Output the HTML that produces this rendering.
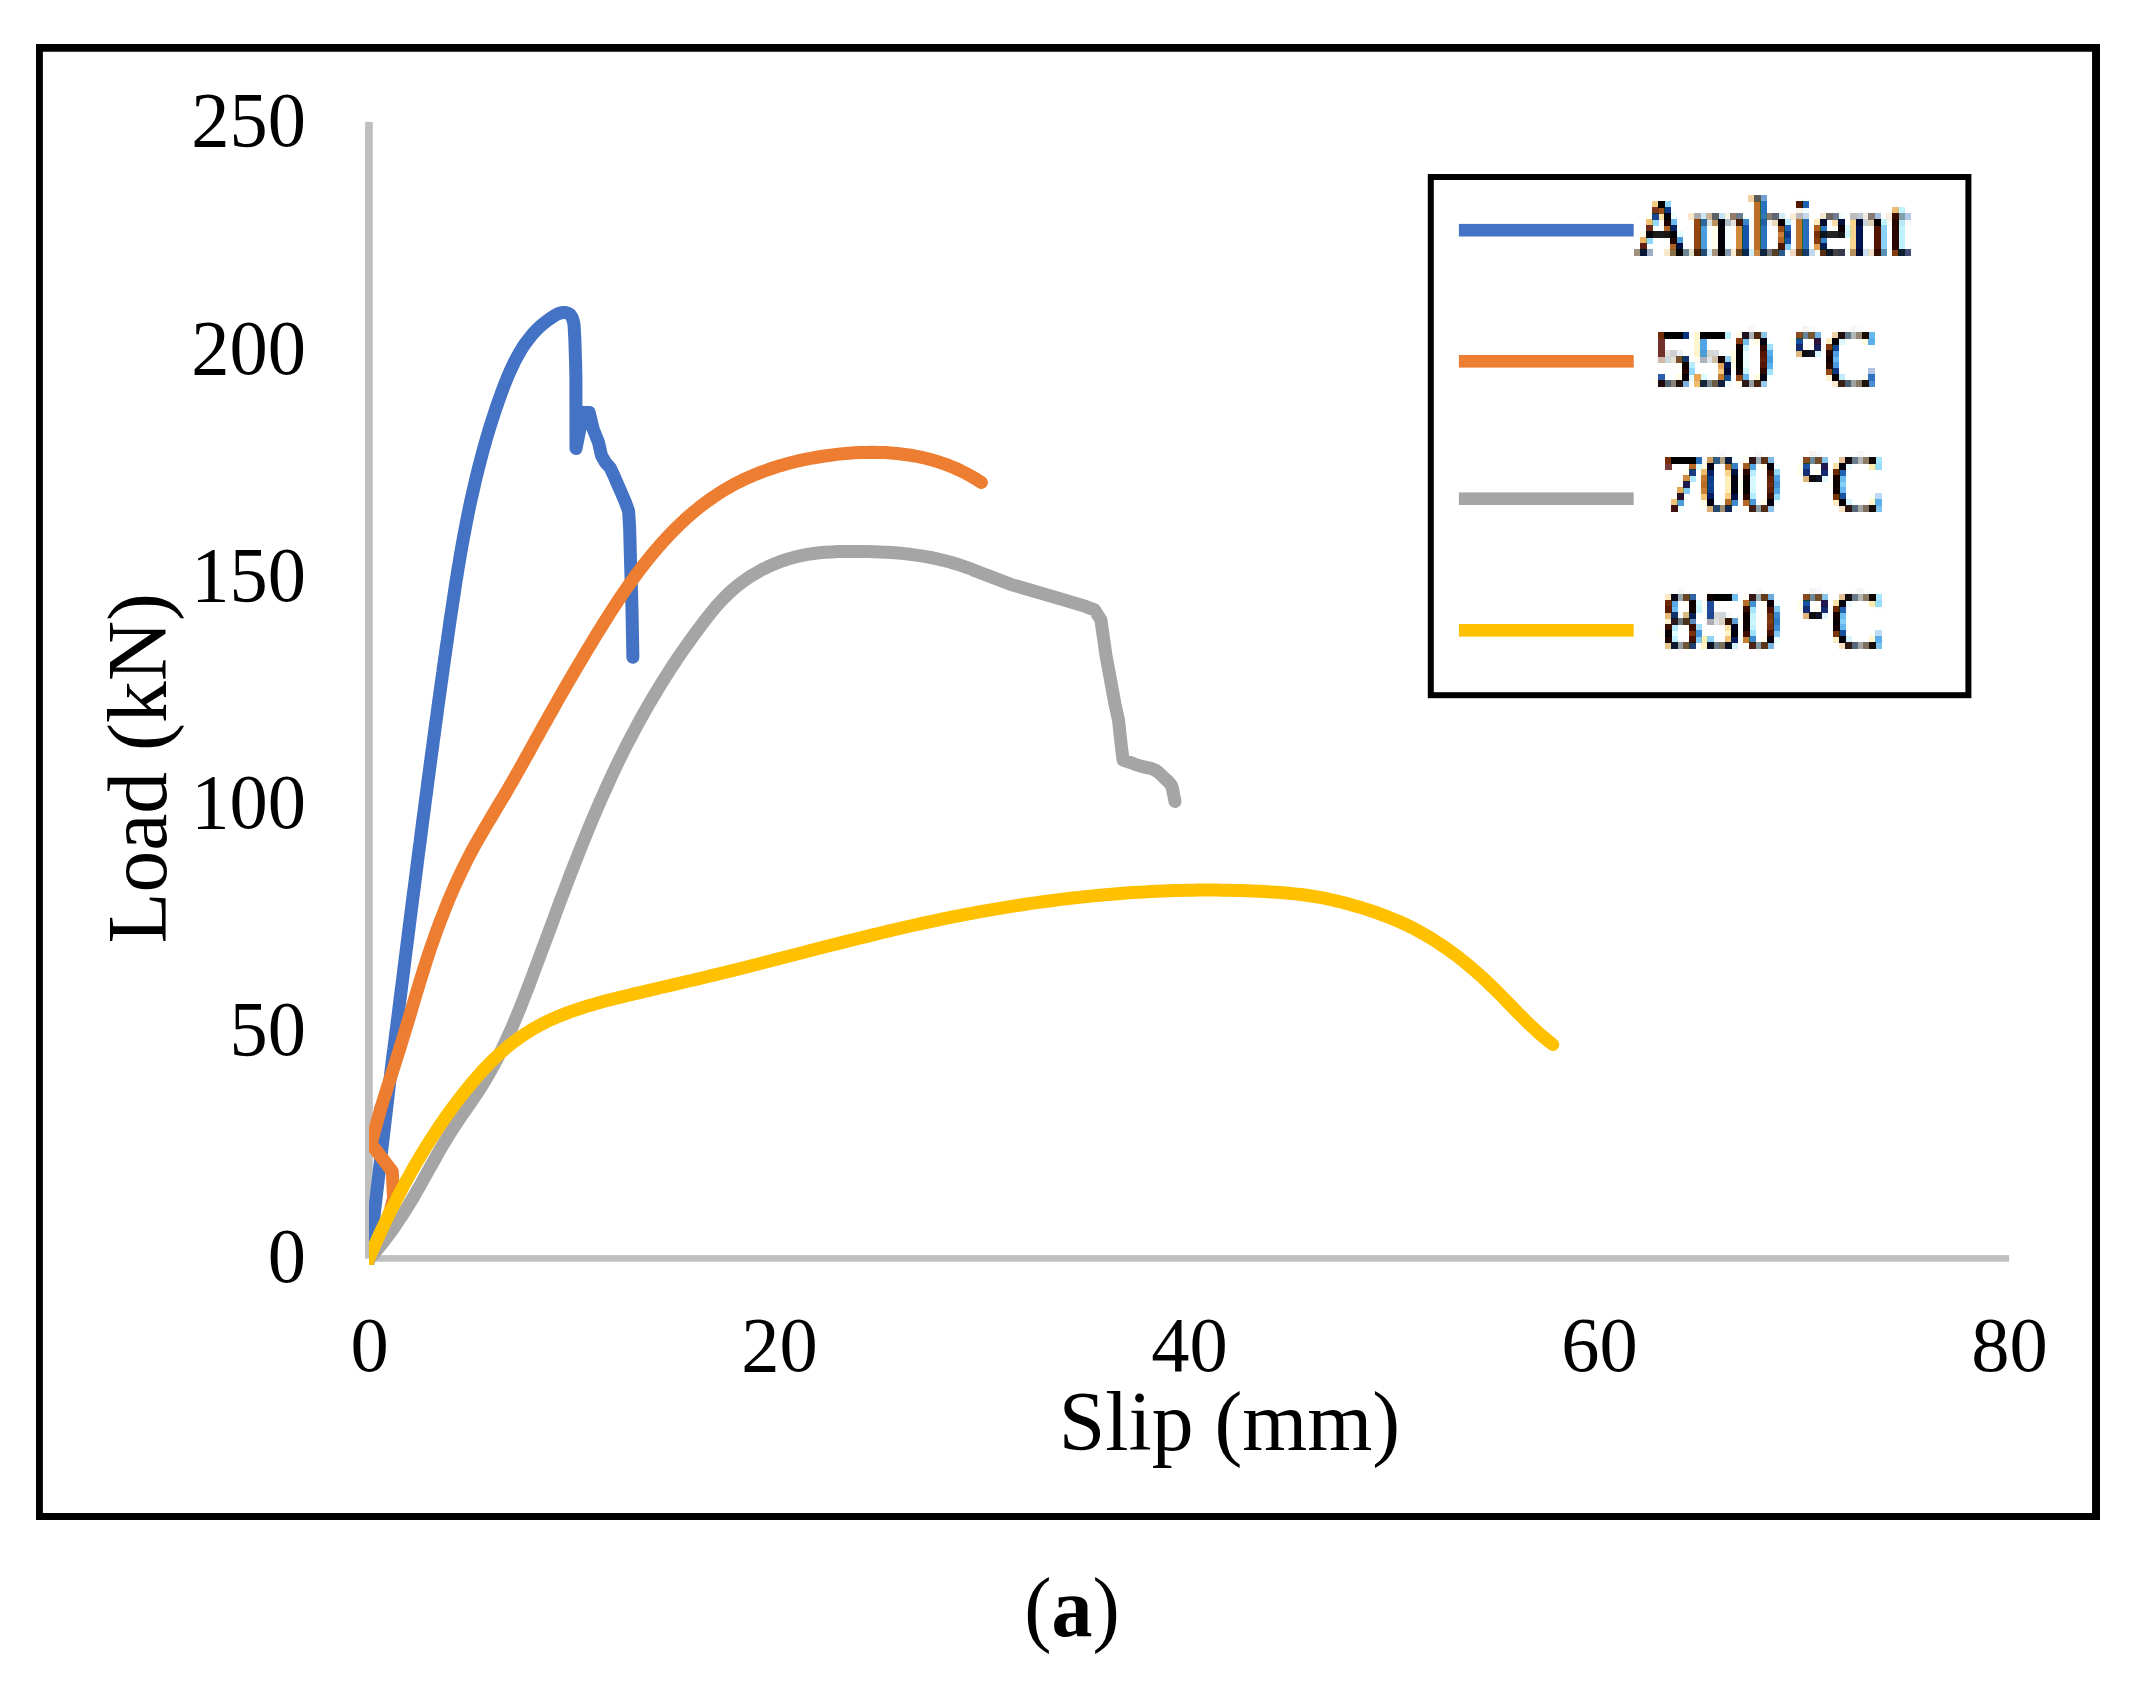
<!DOCTYPE html>
<html lang="en">
<head>
<meta charset="utf-8">
<title>Load-slip curves (a)</title>
<style>
html,body{margin:0;padding:0;background:#fff;}
body{width:2147px;height:1689px;overflow:hidden;}
svg{display:block;}
text{font-family:"Liberation Serif",serif;fill:#000;}
.tk{font-size:76.5px;}
.tt{font-size:83.6px;}
.lg{font-size:82.5px;}
.cv{fill:none;stroke-width:13;stroke-linecap:round;stroke-linejoin:round;}
</style>
</head>
<body>
<svg width="2147" height="1689" viewBox="0 0 2147 1689">
<rect x="0" y="0" width="2147" height="1689" fill="#fff"/>
<path fill="#000" fill-rule="evenodd" d="M36.0 43.9H2100.0V1519.9H36.0Z M42.9 51.75H2092.05V1513.1H42.9Z"/>
<rect x="365.1" y="121.9" width="7.7" height="1136.8" fill="#bfbfbf"/>
<rect x="369.0" y="1255.1" width="1640.1" height="6.6" fill="#bfbfbf"/>
<defs><clipPath id="pc"><rect x="369" y="100" width="1700" height="1165"/></clipPath>
<filter id="px0" filterUnits="userSpaceOnUse" x="1634" y="183" width="312" height="96" color-interpolation-filters="sRGB"><feGaussianBlur in="SourceAlpha" stdDeviation="1.1" result="b"/><feFlood x="1637" y="186" width="1" height="1" flood-color="#000"/><feComposite width="6" height="6"/><feTile result="t"/><feOffset in="b" dx="1.2" dy="0" result="bR"/><feComposite in="bR" in2="t" operator="in"/><feMorphology operator="dilate" radius="3" result="aR"/><feOffset in="b" dx="-1.2" dy="0" result="bB"/><feComposite in="bB" in2="t" operator="in"/><feMorphology operator="dilate" radius="3" result="aB"/><feComposite in="b" in2="t" operator="in"/><feMorphology operator="dilate" radius="3" result="aG"/><feFlood flood-color="#00ffff"/><feComposite in2="aR" operator="in" result="LR"/><feFlood flood-color="#ff00ff"/><feComposite in2="aG" operator="in" result="LG"/><feFlood flood-color="#ffff00"/><feComposite in2="aB" operator="in" result="LB"/><feFlood flood-color="#ffffff" result="w"/><feBlend in="LR" in2="w" mode="multiply" result="m1"/><feBlend in="LG" in2="m1" mode="multiply" result="m2"/><feBlend in="LB" in2="m2" mode="multiply"/></filter>
<filter id="px1" filterUnits="userSpaceOnUse" x="1634" y="314" width="312" height="96" color-interpolation-filters="sRGB"><feGaussianBlur in="SourceAlpha" stdDeviation="1.1" result="b"/><feFlood x="1637" y="317" width="1" height="1" flood-color="#000"/><feComposite width="6" height="6"/><feTile result="t"/><feOffset in="b" dx="1.2" dy="0" result="bR"/><feComposite in="bR" in2="t" operator="in"/><feMorphology operator="dilate" radius="3" result="aR"/><feOffset in="b" dx="-1.2" dy="0" result="bB"/><feComposite in="bB" in2="t" operator="in"/><feMorphology operator="dilate" radius="3" result="aB"/><feComposite in="b" in2="t" operator="in"/><feMorphology operator="dilate" radius="3" result="aG"/><feFlood flood-color="#00ffff"/><feComposite in2="aR" operator="in" result="LR"/><feFlood flood-color="#ff00ff"/><feComposite in2="aG" operator="in" result="LG"/><feFlood flood-color="#ffff00"/><feComposite in2="aB" operator="in" result="LB"/><feFlood flood-color="#ffffff" result="w"/><feBlend in="LR" in2="w" mode="multiply" result="m1"/><feBlend in="LG" in2="m1" mode="multiply" result="m2"/><feBlend in="LB" in2="m2" mode="multiply"/></filter>
<filter id="px2" filterUnits="userSpaceOnUse" x="1635" y="439" width="312" height="96" color-interpolation-filters="sRGB"><feGaussianBlur in="SourceAlpha" stdDeviation="1.1" result="b"/><feFlood x="1638" y="442" width="1" height="1" flood-color="#000"/><feComposite width="6" height="6"/><feTile result="t"/><feOffset in="b" dx="1.2" dy="0" result="bR"/><feComposite in="bR" in2="t" operator="in"/><feMorphology operator="dilate" radius="3" result="aR"/><feOffset in="b" dx="-1.2" dy="0" result="bB"/><feComposite in="bB" in2="t" operator="in"/><feMorphology operator="dilate" radius="3" result="aB"/><feComposite in="b" in2="t" operator="in"/><feMorphology operator="dilate" radius="3" result="aG"/><feFlood flood-color="#00ffff"/><feComposite in2="aR" operator="in" result="LR"/><feFlood flood-color="#ff00ff"/><feComposite in2="aG" operator="in" result="LG"/><feFlood flood-color="#ffff00"/><feComposite in2="aB" operator="in" result="LB"/><feFlood flood-color="#ffffff" result="w"/><feBlend in="LR" in2="w" mode="multiply" result="m1"/><feBlend in="LG" in2="m1" mode="multiply" result="m2"/><feBlend in="LB" in2="m2" mode="multiply"/></filter>
<filter id="px3" filterUnits="userSpaceOnUse" x="1635" y="576" width="312" height="96" color-interpolation-filters="sRGB"><feGaussianBlur in="SourceAlpha" stdDeviation="1.1" result="b"/><feFlood x="1638" y="579" width="1" height="1" flood-color="#000"/><feComposite width="6" height="6"/><feTile result="t"/><feOffset in="b" dx="1.2" dy="0" result="bR"/><feComposite in="bR" in2="t" operator="in"/><feMorphology operator="dilate" radius="3" result="aR"/><feOffset in="b" dx="-1.2" dy="0" result="bB"/><feComposite in="bB" in2="t" operator="in"/><feMorphology operator="dilate" radius="3" result="aB"/><feComposite in="b" in2="t" operator="in"/><feMorphology operator="dilate" radius="3" result="aG"/><feFlood flood-color="#00ffff"/><feComposite in2="aR" operator="in" result="LR"/><feFlood flood-color="#ff00ff"/><feComposite in2="aG" operator="in" result="LG"/><feFlood flood-color="#ffff00"/><feComposite in2="aB" operator="in" result="LB"/><feFlood flood-color="#ffffff" result="w"/><feBlend in="LR" in2="w" mode="multiply" result="m1"/><feBlend in="LG" in2="m1" mode="multiply" result="m2"/><feBlend in="LB" in2="m2" mode="multiply"/></filter>
</defs>
<g clip-path="url(#pc)">
<path class="cv" stroke="#4472c4" d="M364.5 1275.0L369.0 1258.4L392.2 1061.0L392.2 1061.0L392.7 1057.0L393.2 1053.1L393.8 1049.1L394.3 1045.1L394.8 1041.1L395.3 1037.1L395.8 1033.2L396.3 1029.2L396.8 1025.2L397.3 1021.2L397.8 1017.3L398.3 1013.3L398.8 1009.3L399.3 1005.3L399.8 1001.3L400.3 997.4L400.8 993.4L401.3 989.4L401.8 985.5L402.3 981.5L402.8 977.5L403.3 973.5L403.8 969.6L404.3 965.6L404.8 961.6L405.3 957.6L405.8 953.7L406.3 949.7L406.8 945.7L407.3 941.8L407.8 937.8L408.3 933.8L408.8 929.9L409.3 925.9L409.8 921.9L410.3 918.0L410.8 914.0L411.3 910.0L411.8 906.1L412.3 902.1L412.8 898.1L413.3 894.2L413.9 890.2L414.4 886.2L414.9 882.3L415.4 878.3L415.9 874.3L416.4 870.4L416.9 866.4L417.4 862.4L417.9 858.5L418.4 854.5L418.9 850.5L419.4 846.6L420.0 842.6L420.5 838.6L421.0 834.7L421.5 830.7L422.0 826.7L422.5 822.8L423.0 818.8L423.6 814.8L424.1 810.9L424.6 806.9L425.1 803.0L425.6 799.0L426.2 795.0L426.7 791.1L427.2 787.1L427.7 783.1L428.2 779.2L428.8 775.2L429.3 771.2L429.8 767.3L430.3 763.3L430.9 759.3L431.4 755.4L431.9 751.4L432.5 747.5L433.0 743.5L433.5 739.5L434.1 735.6L434.6 731.6L435.1 727.6L435.7 723.7L436.2 719.7L436.8 715.7L437.3 711.8L437.8 707.8L438.4 703.8L438.9 699.9L439.5 695.9L440.0 691.9L440.6 688.0L441.1 684.0L441.7 680.0L442.2 676.1L442.8 672.1L443.3 668.1L443.9 664.2L444.4 660.2L445.0 656.2L445.6 652.3L446.1 648.3L446.7 644.3L447.3 640.4L447.8 636.4L448.4 632.4L449.0 628.4L449.5 624.5L450.1 620.5L450.7 616.5L451.3 612.6L451.9 608.6L452.5 604.6L453.1 600.7L453.7 596.7L454.3 592.7L454.9 588.8L455.5 584.8L456.1 580.8L456.8 576.9L457.4 572.9L458.0 569.0L458.7 565.0L459.4 561.0L460.0 557.1L460.7 553.1L461.4 549.2L462.1 545.2L462.8 541.3L463.5 537.3L464.3 533.4L465.0 529.5L465.8 525.5L466.5 521.6L467.3 517.7L468.1 513.7L468.9 509.8L469.7 505.9L470.6 502.0L471.4 498.1L472.3 494.2L473.2 490.2L474.1 486.3L475.0 482.4L475.9 478.5L476.8 474.7L477.8 470.8L478.8 466.9L479.8 463.0L480.8 459.1L481.8 455.3L482.8 451.4L483.9 447.5L485.0 443.7L486.1 439.8L487.2 436.0L488.4 432.1L489.5 428.3L490.7 424.5L491.9 420.6L493.2 416.8L494.4 413.0L495.7 409.2L497.0 405.4L498.3 401.6L499.7 397.8L501.0 394.0L502.4 390.2L503.8 386.5L505.3 382.7L506.8 379.0L508.3 375.3L509.9 371.6L511.6 368.0L513.3 364.4L515.0 360.8L516.9 357.3L518.8 353.9L520.8 350.5L522.8 347.2L525.0 343.9L527.3 340.8L529.7 337.7L532.1 334.7L534.7 331.8L537.4 329.0L540.3 326.3L543.3 323.8L546.4 321.3L549.6 319.0L549.6 319.0L552.3 317.1L555.2 315.2L558.0 313.8L561.5 312.7L564.8 312.4L567.8 313.2L570.3 314.8L572.2 317.7L573.4 321.5L574.0 324.4L574.2 327.6L574.4 331.1L574.6 334.8L574.8 337.7L574.9 340.8L575.0 344.0L575.1 347.2L575.2 350.6L575.3 353.9L575.4 357.1L575.5 360.2L575.6 363.3L575.7 366.4L575.7 369.4L575.8 372.6L575.9 376.0L575.9 379.5L575.9 379.5L576.0 448.4L583.3 412.5L589.2 412.5L593.1 428.8L598.6 442.6L601.5 455.6L605.6 462.7L610.1 467.6L614.2 476.2L616.8 482.5L621.3 492.6L625.4 502.3L628.6 511.1L629.6 527.0L630.5 560.0L631.9 604.8L632.9 657.3"/>
<path class="cv" stroke="#ed7d31" d="M362.0 1275.0L369.0 1258.4L383.5 1228.0L390.5 1210.0L393.5 1198.0L392.3 1171.5L371.0 1143.8L380.4 1110.0L380.2 1109.9L382.1 1104.2L383.9 1098.4L385.7 1092.7L387.5 1087.0L389.4 1081.2L391.2 1075.5L393.0 1069.8L394.9 1064.0L396.7 1058.3L398.5 1052.6L400.3 1046.8L402.1 1041.1L403.8 1035.3L405.6 1029.6L407.3 1023.8L409.1 1018.0L410.8 1012.2L412.5 1006.5L414.2 1000.7L415.9 994.9L417.7 989.1L419.4 983.3L421.2 977.5L423.0 971.8L424.8 966.0L426.6 960.3L428.5 954.5L430.4 948.8L432.4 943.1L434.4 937.4L436.4 931.7L438.5 926.0L440.6 920.4L442.8 914.8L445.0 909.2L447.2 903.6L449.5 898.0L451.9 892.5L454.3 887.0L456.8 881.5L459.3 876.0L461.9 870.6L464.5 865.2L467.2 859.8L470.0 854.5L472.8 849.1L475.7 843.9L478.7 838.6L481.7 833.4L484.7 828.2L487.8 823.0L490.9 817.8L494.0 812.6L497.1 807.4L500.2 802.2L503.3 797.1L506.4 791.9L509.4 786.6L512.4 781.4L515.4 776.2L518.4 770.9L521.4 765.6L524.3 760.3L527.3 755.1L530.2 749.8L533.1 744.5L536.0 739.2L539.0 734.0L541.9 728.7L544.8 723.4L547.8 718.2L550.7 712.9L553.7 707.7L556.7 702.4L559.6 697.2L562.6 692.0L565.6 686.8L568.6 681.6L571.6 676.4L574.7 671.2L577.7 666.0L580.8 660.8L583.9 655.6L587.0 650.4L590.1 645.3L593.2 640.1L596.4 634.9L599.5 629.8L602.7 624.7L606.0 619.5L609.2 614.4L612.5 609.3L615.8 604.2L619.1 599.2L622.5 594.2L625.9 589.2L629.4 584.2L632.9 579.3L636.5 574.4L640.1 569.5L643.8 564.7L647.5 560.0L651.3 555.3L655.2 550.7L659.1 546.1L663.1 541.6L667.2 537.2L671.4 532.8L675.6 528.5L679.9 524.3L684.3 520.2L688.8 516.2L693.4 512.2L698.0 508.4L702.8 504.7L707.6 501.1L712.5 497.6L717.5 494.3L722.6 491.1L727.7 488.0L732.9 485.1L738.2 482.3L743.6 479.7L749.0 477.2L754.6 474.8L760.1 472.6L765.7 470.5L771.4 468.5L777.2 466.6L782.9 464.9L788.8 463.3L794.6 461.8L800.5 460.4L806.5 459.2L812.4 458.0L818.4 457.0L824.4 456.0L830.5 455.2L836.5 454.4L842.6 453.8L848.6 453.2L854.7 452.8L860.8 452.5L866.9 452.4L872.9 452.3L879.0 452.4L885.0 452.6L891.0 453.0L897.0 453.5L903.0 454.2L908.9 455.0L914.8 456.0L920.7 457.2L926.5 458.5L932.3 460.1L938.0 461.8L943.6 463.6L949.2 465.7L954.8 468.0L960.3 470.5L965.7 473.2L971.0 476.1L976.2 479.2L981.4 482.5"/>
<path class="cv" stroke="#a5a5a5" d="M359.9 1268.0L364.2 1263.7L368.4 1259.4L372.5 1255.0L376.4 1250.5L380.2 1245.8L384.0 1241.2L387.6 1236.4L391.1 1231.6L394.6 1226.7L398.0 1221.7L401.3 1216.7L404.5 1211.7L407.7 1206.6L410.8 1201.5L413.9 1196.3L416.9 1191.1L419.9 1185.9L422.8 1180.7L425.7 1175.4L428.6 1170.2L431.5 1165.0L434.5 1159.7L437.4 1154.5L440.4 1149.3L443.4 1144.1L446.5 1139.0L449.6 1133.9L452.8 1128.8L456.1 1123.8L459.5 1118.8L462.9 1113.9L466.3 1109.0L469.7 1104.0L473.1 1099.1L476.5 1094.1L479.8 1089.1L483.0 1084.0L486.0 1078.9L489.0 1073.7L492.0 1068.5L494.8 1063.3L497.6 1058.0L500.3 1052.6L502.9 1047.3L505.4 1041.9L507.9 1036.4L510.4 1031.0L512.8 1025.5L515.1 1020.0L517.4 1014.4L519.7 1008.9L521.9 1003.3L524.1 997.7L526.3 992.1L528.5 986.5L530.6 980.9L532.7 975.3L534.8 969.6L536.9 964.0L539.0 958.4L541.1 952.8L543.2 947.1L545.3 941.5L547.4 935.9L549.5 930.2L551.6 924.6L553.7 919.0L555.7 913.4L557.8 907.7L559.9 902.1L562.0 896.5L564.2 890.9L566.3 885.3L568.4 879.7L570.5 874.1L572.7 868.5L574.9 862.9L577.1 857.3L579.3 851.7L581.5 846.2L583.7 840.6L586.0 835.1L588.2 829.5L590.5 824.0L592.8 818.5L595.2 812.9L597.5 807.4L599.9 801.9L602.4 796.4L604.8 791.0L607.3 785.5L609.8 780.1L612.3 774.6L614.8 769.2L617.4 763.8L620.0 758.4L622.7 753.1L625.4 747.7L628.1 742.4L630.9 737.1L633.7 731.8L636.5 726.5L639.4 721.2L642.3 716.0L645.2 710.7L648.2 705.5L651.2 700.4L654.3 695.2L657.4 690.1L660.5 684.9L663.7 679.8L666.9 674.8L670.1 669.7L673.4 664.7L676.7 659.7L680.1 654.7L683.5 649.7L687.0 644.8L690.5 639.9L694.0 635.0L697.6 630.1L701.2 625.3L704.8 620.5L708.6 615.7L712.4 611.0L716.2 606.4L720.2 602.0L724.4 597.6L728.6 593.4L733.0 589.4L737.6 585.6L742.3 582.0L747.2 578.5L752.1 575.3L757.3 572.3L762.5 569.4L767.8 566.8L773.3 564.4L778.8 562.2L784.4 560.2L790.1 558.4L795.9 556.8L801.7 555.5L807.6 554.4L813.5 553.5L819.5 552.8L825.5 552.2L831.5 551.9L837.6 551.6L843.7 551.5L849.7 551.4L855.8 551.4L861.8 551.5L867.9 551.6L873.9 551.7L879.9 551.9L885.9 552.2L891.9 552.6L897.9 553.1L903.9 553.6L909.8 554.3L915.7 555.1L921.6 555.9L927.5 556.9L933.4 558.0L939.2 559.3L945.0 560.7L950.8 562.2L956.5 563.9L962.2 565.8L967.9 567.8L973.6 570.0L973.5 570.2L1010.9 584.4L1060.9 599.1L1085.9 606.6L1094.6 609.9L1100.9 619.9L1105.9 654.9L1115.1 704.8L1118.5 720.0L1121.2 745.0L1123.1 760.0L1123.1 760.0L1126.1 761.0L1129.2 762.1L1132.3 763.2L1135.3 764.3L1138.3 765.3L1141.2 766.2L1144.9 767.1L1148.4 767.9L1151.8 768.7L1155.0 770.0L1157.8 771.9L1160.4 774.1L1162.8 776.5L1165.0 778.7L1168.4 781.7L1171.2 785.0L1172.4 788.2L1173.1 791.7L1173.7 795.0L1174.4 798.3L1175.0 801.5"/>
<path class="cv" stroke="#ffc000" d="M362.2 1273.9L364.5 1268.4L366.9 1262.8L369.3 1257.3L371.7 1251.8L374.2 1246.3L376.6 1240.8L379.1 1235.3L381.7 1229.8L384.2 1224.4L386.8 1219.0L389.4 1213.6L392.1 1208.2L394.8 1202.8L397.5 1197.4L400.3 1192.1L403.1 1186.8L405.9 1181.5L408.8 1176.3L411.7 1171.0L414.7 1165.8L417.7 1160.6L420.8 1155.5L423.9 1150.4L427.0 1145.2L430.2 1140.2L433.5 1135.1L436.8 1130.1L440.1 1125.1L443.5 1120.2L447.0 1115.2L450.5 1110.4L454.1 1105.5L457.7 1100.7L461.4 1095.9L465.1 1091.2L469.0 1086.5L472.8 1081.8L476.8 1077.2L480.8 1072.7L484.9 1068.3L489.1 1063.9L493.4 1059.7L497.7 1055.5L502.2 1051.5L506.7 1047.5L511.3 1043.8L516.1 1040.1L521.0 1036.7L525.9 1033.4L531.0 1030.2L536.1 1027.2L541.3 1024.4L546.6 1021.7L552.0 1019.2L557.5 1016.8L563.0 1014.6L568.6 1012.4L574.3 1010.4L580.0 1008.5L585.7 1006.6L591.5 1004.9L597.3 1003.2L603.2 1001.6L609.0 1000.0L614.9 998.5L620.8 997.1L626.7 995.7L632.6 994.2L638.6 992.9L644.4 991.5L650.3 990.1L656.2 988.7L662.1 987.3L667.9 986.0L673.8 984.6L679.6 983.2L685.5 981.8L691.3 980.5L697.2 979.1L703.0 977.7L708.8 976.3L714.7 974.9L720.5 973.5L726.3 972.0L732.1 970.6L737.9 969.2L743.7 967.7L749.6 966.2L755.4 964.8L761.2 963.3L767.0 961.8L772.8 960.3L778.6 958.8L784.4 957.3L790.3 955.8L796.1 954.3L801.9 952.8L807.7 951.3L813.5 949.8L819.3 948.3L825.2 946.8L831.0 945.3L836.8 943.9L842.6 942.4L848.5 940.9L854.3 939.5L860.1 938.0L866.0 936.6L871.8 935.1L877.6 933.7L883.5 932.3L889.3 930.9L895.2 929.5L901.0 928.2L906.9 926.8L912.8 925.5L918.6 924.2L924.5 922.9L930.4 921.6L936.3 920.4L942.1 919.1L948.0 917.9L953.9 916.7L959.8 915.6L965.7 914.4L971.7 913.3L977.6 912.2L983.5 911.1L989.4 910.1L995.3 909.1L1001.3 908.1L1007.2 907.1L1013.2 906.1L1019.1 905.2L1025.0 904.3L1031.0 903.4L1036.9 902.6L1042.9 901.8L1048.9 901.0L1054.8 900.2L1060.8 899.4L1066.8 898.7L1072.7 898.0L1078.7 897.4L1084.7 896.7L1090.7 896.1L1096.6 895.5L1102.6 895.0L1108.6 894.4L1114.6 894.0L1120.6 893.5L1126.6 893.0L1132.6 892.6L1138.6 892.3L1144.6 891.9L1150.6 891.6L1156.6 891.3L1162.6 891.0L1168.6 890.8L1174.6 890.6L1180.6 890.5L1186.6 890.3L1192.6 890.2L1198.6 890.1L1204.6 890.1L1210.6 890.1L1216.6 890.1L1222.6 890.2L1228.6 890.3L1234.6 890.4L1240.6 890.6L1246.6 890.8L1252.7 891.0L1258.7 891.3L1264.7 891.6L1270.7 891.9L1276.7 892.3L1282.7 892.7L1288.6 893.3L1294.6 893.9L1300.6 894.5L1306.5 895.3L1312.5 896.2L1318.4 897.1L1324.3 898.2L1330.2 899.5L1336.1 900.8L1341.9 902.2L1347.7 903.8L1353.5 905.4L1359.3 907.1L1365.1 908.9L1370.9 910.8L1376.6 912.7L1382.3 914.8L1387.9 916.9L1393.5 919.2L1399.1 921.5L1404.6 924.0L1410.0 926.6L1415.3 929.3L1420.5 932.2L1425.7 935.1L1430.9 938.2L1435.9 941.4L1440.9 944.7L1445.9 948.0L1450.7 951.5L1455.6 955.1L1460.3 958.7L1465.0 962.5L1469.6 966.3L1474.2 970.2L1478.7 974.2L1483.2 978.2L1487.6 982.3L1491.9 986.5L1496.2 990.7L1500.5 995.0L1504.7 999.3L1508.9 1003.6L1513.1 1007.9L1517.3 1012.3L1521.6 1016.5L1525.8 1020.8L1530.1 1025.0L1534.5 1029.1L1538.9 1033.1L1543.5 1037.0L1548.1 1040.8L1552.8 1044.5"/>
</g>
<text class="tk" transform="translate(306.0 146.4) scale(1 1.027)" text-anchor="end">250</text>
<text class="tk" transform="translate(306.0 373.5) scale(1 1.027)" text-anchor="end">200</text>
<text class="tk" transform="translate(306.0 600.6) scale(1 1.027)" text-anchor="end">150</text>
<text class="tk" transform="translate(306.0 827.7) scale(1 1.027)" text-anchor="end">100</text>
<text class="tk" transform="translate(306.0 1054.8) scale(1 1.027)" text-anchor="end">50</text>
<text class="tk" transform="translate(306.0 1281.9) scale(1 1.027)" text-anchor="end">0</text>
<text class="tk" transform="translate(369.7 1370.9) scale(1 1.027)" text-anchor="middle">0</text>
<text class="tk" transform="translate(779.6 1370.9) scale(1 1.027)" text-anchor="middle">20</text>
<text class="tk" transform="translate(1189.6 1370.9) scale(1 1.027)" text-anchor="middle">40</text>
<text class="tk" transform="translate(1599.6 1370.9) scale(1 1.027)" text-anchor="middle">60</text>
<text class="tk" transform="translate(2009.6 1370.9) scale(1 1.027)" text-anchor="middle">80</text>
<text class="tt" transform="translate(1058.8 1449.8) scale(1 1.02)">Slip (mm)</text>
<text class="tt" transform="translate(166.3 943.6) rotate(-90) scale(1 1.02)">Load (kN)</text>
<text class="tt" transform="translate(1024.2 1636.0) scale(0.98 1.02)">(<tspan font-weight="bold">a</tspan>)</text>
<rect x="1430.8" y="177.0" width="537.6" height="518.2" fill="#fff" stroke="#000" stroke-width="6"/>
<rect x="1458.9" y="223.9" width="174.8" height="12.6" fill="#4472c4"/>
<g filter="url(#px0)"><text class="lg" x="1633.5" y="255.1" textLength="276.3" lengthAdjust="spacingAndGlyphs">Ambient</text></g>
<rect x="1458.9" y="355.0" width="174.8" height="12.6" fill="#ed7d31"/>
<g filter="url(#px1)"><text class="lg" x="1653.9" y="385.6" textLength="222.4" lengthAdjust="spacingAndGlyphs">550 °C</text></g>
<rect x="1458.9" y="492.4" width="174.8" height="12.6" fill="#a5a5a5"/>
<g filter="url(#px2)"><text class="lg" x="1662.2" y="511.3" textLength="220.2" lengthAdjust="spacingAndGlyphs">700 °C</text></g>
<rect x="1458.9" y="624.0" width="174.8" height="12.6" fill="#ffc000"/>
<g filter="url(#px3)"><text class="lg" x="1662.3" y="648.3" textLength="220.2" lengthAdjust="spacingAndGlyphs">850 °C</text></g>
</svg>
</body>
</html>
